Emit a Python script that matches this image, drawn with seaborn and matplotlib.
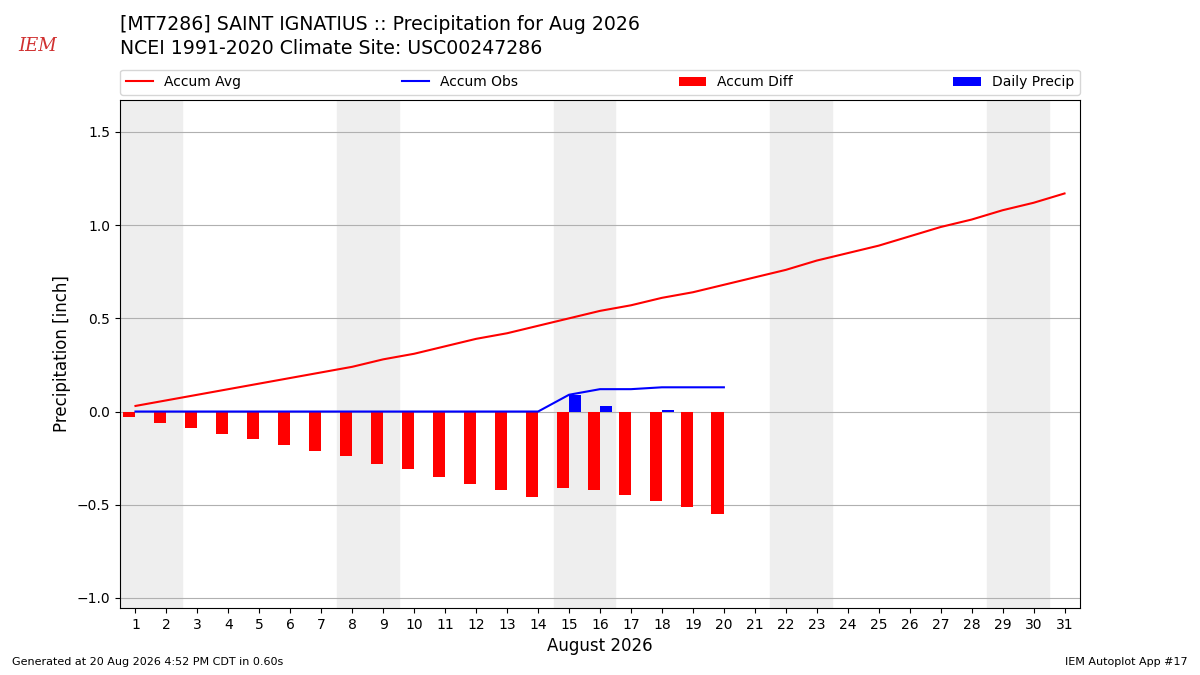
import numpy as np
import pandas as pd
import matplotlib
matplotlib.use("Agg")
import matplotlib.pyplot as plt
import seaborn as sns

# Data
days = list(range(1, 32))
accum_avg = [0.03, 0.06, 0.09, 0.12, 0.15, 0.18, 0.21, 0.24, 0.28, 0.31,
             0.35, 0.39, 0.42, 0.46, 0.50, 0.54, 0.57, 0.61, 0.64, 0.68,
             0.72, 0.76, 0.81, 0.85, 0.89, 0.94, 0.99, 1.03, 1.08, 1.12, 1.17]
obs_days = list(range(1, 21))
accum_obs = [0, 0, 0, 0, 0, 0, 0, 0, 0, 0, 0, 0, 0, 0,
             0.09, 0.12, 0.12, 0.13, 0.13, 0.13]
accum_diff = [-0.03, -0.06, -0.09, -0.12, -0.15, -0.18, -0.21, -0.24, -0.28, -0.31,
              -0.35, -0.39, -0.42, -0.46, -0.41, -0.42, -0.45, -0.48, -0.51, -0.55]
daily_precip = [0, 0, 0, 0, 0, 0, 0, 0, 0, 0, 0, 0, 0, 0,
                0.09, 0.03, 0, 0.01, 0, 0]
weekend_starts = [1, 8, 15, 22, 29]

avg_df = pd.DataFrame({'day': days, 'value': accum_avg})
obs_df = pd.DataFrame({'day': obs_days, 'value': accum_obs})

fig = plt.figure(figsize=(12, 6.75), dpi=100)
ax = fig.add_axes([0.1, 0.0993, 0.8, 0.7527])

# Weekend shading
for d in weekend_starts:
    ax.axvspan(d - 0.5, d + 1.5, color='#eeeeee', zorder=0)

ax.grid(axis='y', color='#b0b0b0', zorder=1)
ax.set_axisbelow(True)

ax.bar(obs_days, accum_diff, width=-0.4, align='edge', color='red',
       label='Accum Diff', zorder=2)
ax.bar(obs_days, daily_precip, width=0.4, align='edge', color='blue',
       label='Daily Precip', zorder=2)
sns.lineplot(data=avg_df, x='day', y='value', color='red', lw=1.5,
             label='Accum Avg', ax=ax, zorder=3)
sns.lineplot(data=obs_df, x='day', y='value', color='blue', lw=1.5,
             label='Accum Obs', ax=ax, zorder=3)

ax.set_xlim(0.5, 31.5)
ax.set_ylim(-1.054, 1.672)
ax.set_xticks(days)
ax.set_yticks([-1.0, -0.5, 0.0, 0.5, 1.0, 1.5])
ax.tick_params(labelsize=10)
ax.set_xlabel('August 2026', fontsize=12)
ax.set_ylabel('Precipitation [inch]', fontsize=12)

handles, labels = ax.get_legend_handles_labels()
order = ['Accum Avg', 'Accum Obs', 'Accum Diff', 'Daily Precip']
hmap = dict(zip(labels, handles))
ax.legend([hmap[k] for k in order], order, loc='lower left', ncol=4,
          mode='expand', bbox_to_anchor=(0, 1.01, 1, 0.05), fontsize=10,
          borderaxespad=0)

fig.text(0.1, 0.963, '[MT7286] SAINT IGNATIUS :: Precipitation for Aug 2026',
         fontsize=13.6, va='center')
fig.text(0.1, 0.928, 'NCEI 1991-2020 Climate Site: USC00247286',
         fontsize=13.6, va='center')
fig.text(0.031, 0.932, 'IEM', fontsize=13, color='#d03030', family='serif',
         style='italic', ha='center', va='center')
fig.text(0.01, 0.015, 'Generated at 20 Aug 2026 4:52 PM CDT in 0.60s', fontsize=8)
fig.text(0.99, 0.015, 'IEM Autoplot App #17', fontsize=8, ha='right')

fig.savefig('out.png', dpi=100)
